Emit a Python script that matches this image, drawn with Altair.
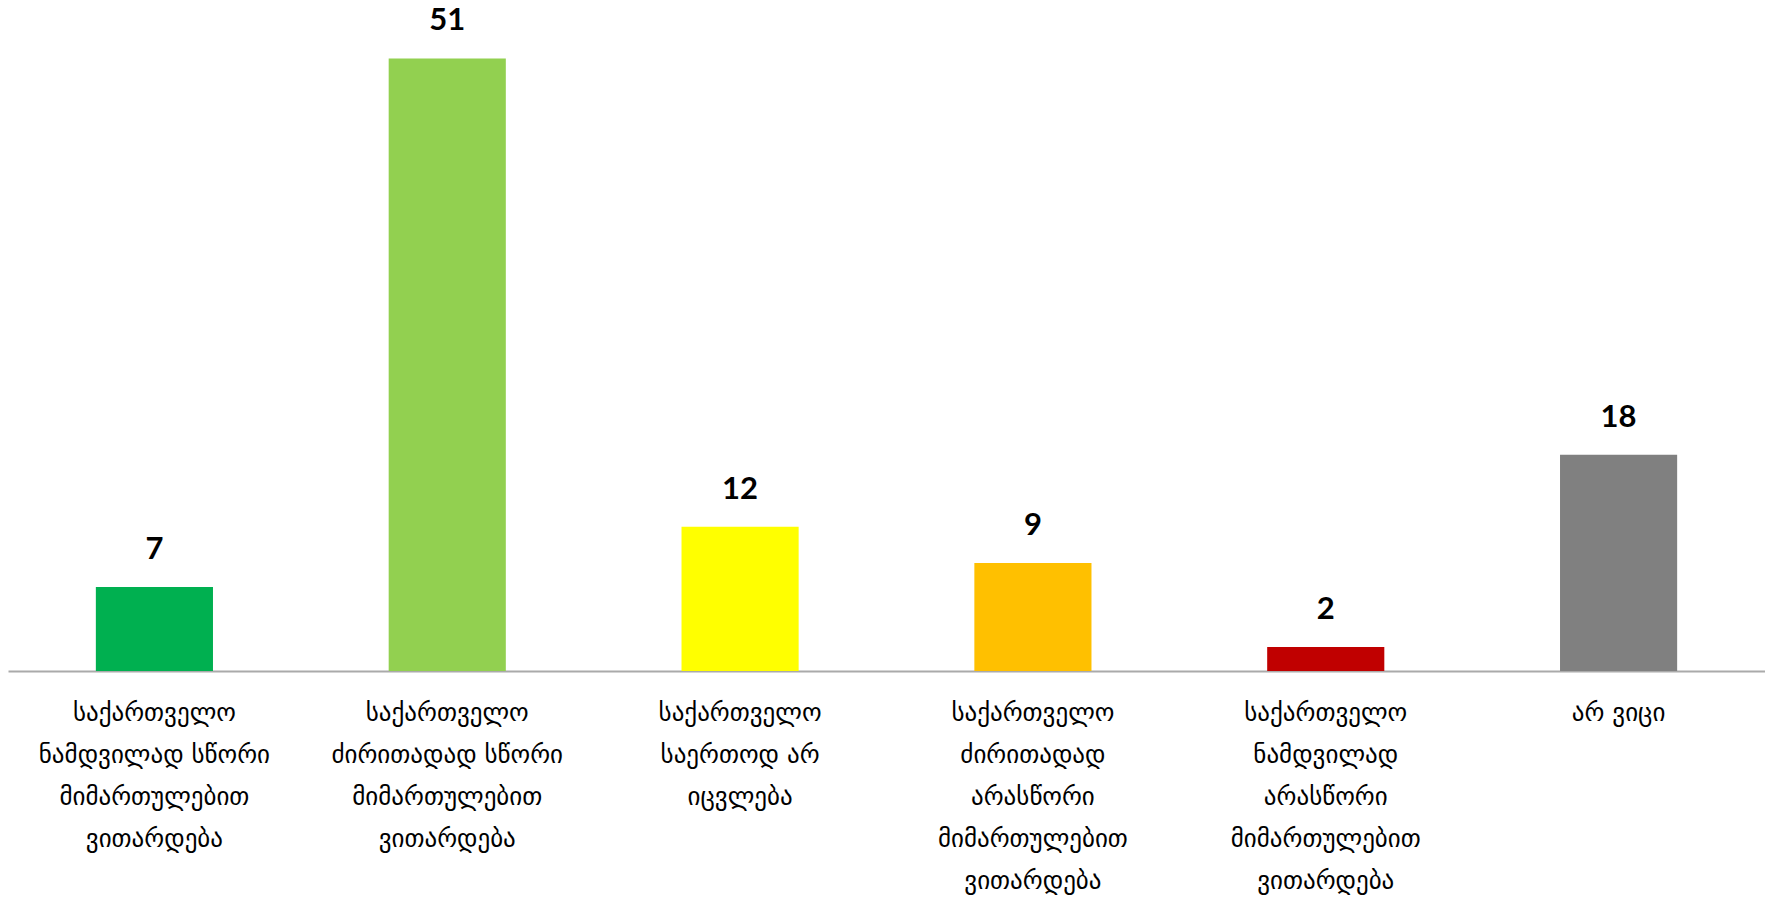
import altair as alt
import pandas as pd

categories = [
    "საქართველო\nნამდვილად სწორი\nმიმართულებით\nვითარდება",
    "საქართველო\nძირითადად სწორი\nმიმართულებით\nვითარდება",
    "საქართველო\nსაერთოდ არ\nიცვლება",
    "საქართველო\nძირითადად\nარასწორი\nმიმართულებით\nვითარდება",
    "საქართველო\nნამდვილად\nარასწორი\nმიმართულებით\nვითარდება",
    "არ ვიცი",
]
values = [7, 51, 12, 9, 2, 18]
colors = ["#00B050", "#92D050", "#FFFF00", "#FFC000", "#C00000", "#808080"]

df = pd.DataFrame({"cat": categories, "val": values, "color": colors})

x = alt.X(
    "cat:N",
    sort=categories,
    title=None,
    scale=alt.Scale(paddingInner=0.6, paddingOuter=0.3),
    axis=alt.Axis(
        labelAngle=0,
        labelExpr="split(datum.label, '\\n')",
        labelFont="DejaVu Sans",
        labelFontSize=25,
        labelLineHeight=42,
        labelColor="#000000",
        labelPadding=29,
        labelBaseline="top",
        labelLimit=400,
        ticks=False,
        grid=False,
        domainColor="#AAAAAA",
        domainWidth=2,
    ),
)
y = alt.Y("val:Q", title=None, scale=alt.Scale(domain=[0, 55.2], nice=False), axis=None)

base = alt.Chart(df).encode(x=x, y=y)

bars = base.mark_bar().encode(color=alt.Color("color:N", scale=None))
labels = base.mark_text(
    dy=-21, baseline="bottom", font="Lato", fontWeight="bold", fontSize=31, color="#000000"
).encode(text="val:Q")

chart = (
    (bars + labels)
    .properties(
        width=1757,
        height=663,
        autosize=alt.AutoSizeParams(type="none"),
        padding={"left": 0, "top": 0, "right": 0, "bottom": 240},
    )
    .configure_view(stroke=None)
)

chart.save("out.html", embed_options={"renderer": "svg", "actions": False})
